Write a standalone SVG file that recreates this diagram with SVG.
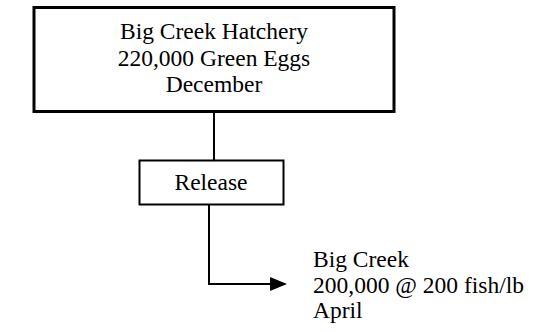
<svg xmlns="http://www.w3.org/2000/svg" width="533" height="332" viewBox="0 0 533 332">
<style>
.box{fill:#fff;stroke:#000;stroke-width:3}
.t{font-family:"Liberation Serif","Times New Roman",serif;font-size:23.5px;fill:#000}
.c{text-anchor:middle}
.ln{fill:none;stroke:#000;stroke-width:2}
</style>
<g id="connectors">
<line class="ln" x1="214" y1="112" x2="214" y2="160"/>
<polyline class="ln" points="209,205 209,284 271,284"/>
<path d="M270,277 L287,284 L270,291 Z" fill="#000"/>
</g>
<g id="hatchery">
<rect class="box" x="34" y="7.5" width="360" height="104"/>
<text class="t c" x="214" y="39">Big Creek Hatchery</text>
<text class="t c" x="214" y="65.5">220,000 Green Eggs</text>
<text class="t c" x="214" y="92">December</text>
</g>
<g id="release">
<rect class="box" x="139.5" y="160.5" width="144" height="44" style="stroke-width:2"/>
<text class="t c" x="211" y="190">Release</text>
</g>
<g id="bigcreek">
<text class="t" x="313" y="267">Big Creek</text>
<text class="t" x="313" y="292.5">200,000 @ 200 fish/lb</text>
<text class="t" x="313" y="318">April</text>
</g>
</svg>
